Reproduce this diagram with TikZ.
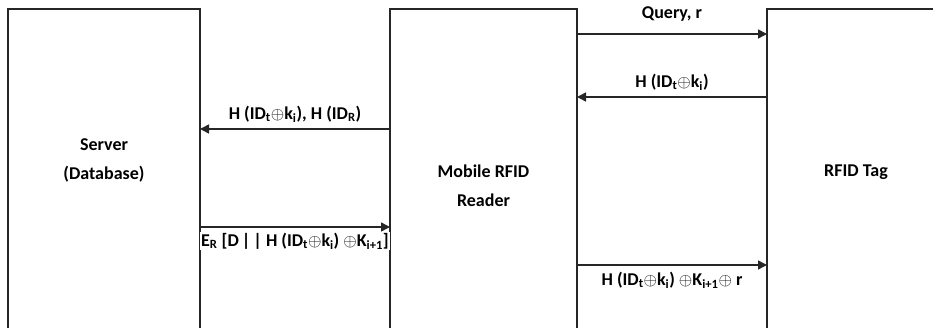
\documentclass[tikz,border=0pt]{standalone}
\usepackage{fontspec}
\setmainfont{Carlito}
\usetikzlibrary{arrows.meta,calc,positioning}
\tikzset{
	protocol diagram/.style={
		x=1pt, y=-1pt,
		font=\fontsize{18}{29}\selectfont\bfseries,
		node distance=190pt,
		party/.style={draw=none, minimum height=319pt, inner sep=0pt, outer sep=0pt},
		lifeline/.style={draw=black!85, line width=1.2pt},
		msg/.style={draw=black!85, line width=1.6pt, -{Triangle[length=9pt,width=9pt]}},
		msg label/.style={inner sep=1pt, align=center},
		party name/.style={align=center, inner sep=1pt}
		}
}
\newcommand{\xorop}{\ensuremath{\oplus}}
\newcommand{\hashtk}{H (ID\textsubscript{t}\xorop k\textsubscript{i})}

\begin{document}
\begin{tikzpicture}[protocol diagram]
  \useasboundingbox (0,0) rectangle (933,328);
  \node[party, minimum width=192pt, anchor=north west] (server) at (8,9) {};
  \node[party, minimum width=187pt, right=of server] (reader) {};
  \node[party, minimum width=200pt, right=of reader] (tag) {};
  % open at the bottom, the tag runs off the right edge
  \draw[lifeline] (server.south west) -- (server.north west) -- (server.north east) -- (server.south east);
  \draw[lifeline] (reader.south west) -- (reader.north west) -- (reader.north east) -- (reader.south east);
  \draw[lifeline] (tag.south west) -- (tag.north west) -- (tag.north east);
  \node[party name] (server name) at ($(server.north)+(0,151)$) {Server\\(Database)};
  \node[party name] (reader name) at ($(reader.north)+(0,177)$) {Mobile RFID\\Reader};
  \node[party name] (tag name) at ($(tag.north west)+(89,163)$) {RFID Tag};
  \draw[msg] ($(reader.north east)+(0,25)$) coordinate (m1) -- (m1 -| tag.west)
        node[msg label, midway, above=11pt] {Query, r};
  \draw[msg] ($(tag.north west)+(0,88)$) coordinate (m2) -- (m2 -| reader.east)
        node[msg label, midway, above=5pt] {\hashtk};
  \draw[msg] ($(reader.north west)+(0,120)$) coordinate (m3) -- (m3 -| server.east)
        node[msg label, midway, above=5pt] {\hashtk, H (ID\textsubscript{R})};
  \draw[msg] ($(server.north east)+(0,218)$) coordinate (m4) -- (m4 -| reader.west)
        node[msg label, fill=white, midway, below=4pt] {E\textsubscript{R} [D\,|\,|~\hashtk~\xorop K\textsubscript{i+1}]};
  \draw[msg] ($(reader.north east)+(0,256)$) coordinate (m5) -- (m5 -| tag.west)
        node[msg label, midway, below=5pt] {\hashtk~\xorop K\textsubscript{i+1}\xorop~r};
\end{tikzpicture}
\end{document}
